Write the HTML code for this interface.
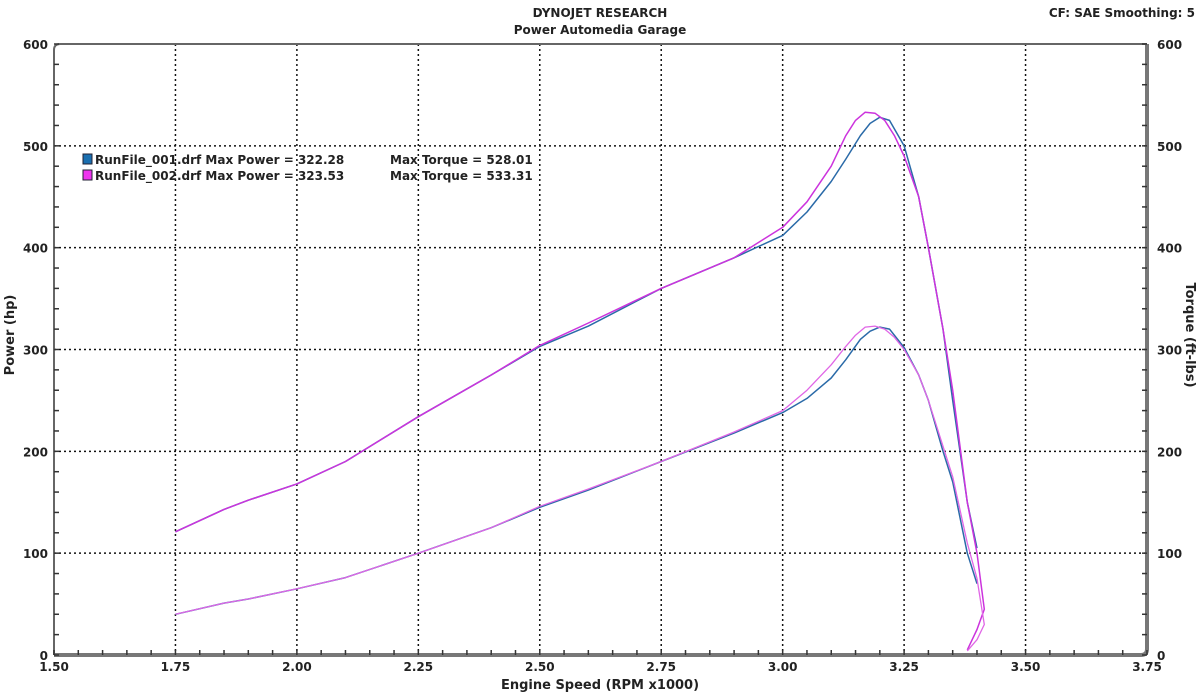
<!DOCTYPE html>
<html><head><meta charset="utf-8"><style>
body{margin:0;background:#fff;}
svg text{font-family:"DejaVu Sans","Liberation Sans",sans-serif;font-weight:bold;fill:#222;}
</style></head><body>
<svg id="chart" width="1200" height="692" xmlns="http://www.w3.org/2000/svg">
<text x="600" y="17" font-size="12" text-anchor="middle">DYNOJET RESEARCH</text>
<text x="600" y="34" font-size="12" text-anchor="middle">Power Automedia Garage</text>
<text x="1195" y="17" font-size="12" text-anchor="end">CF: SAE  Smoothing: 5</text>
<g id="grid"></g>
<g id="axes"></g>
<g id="series"></g>
<g>
<rect x="83" y="154" width="9" height="10" fill="#1a6fb0" stroke="#223" stroke-width="1"/>
<text x="95" y="164" font-size="12">RunFile_001.drf Max Power = 322.28</text>
<text x="390" y="164" font-size="12">Max Torque = 528.01</text>
<rect x="83" y="170" width="9" height="10" fill="#ee33ee" stroke="#223" stroke-width="1"/>
<text x="95" y="180" font-size="12">RunFile_002.drf Max Power = 323.53</text>
<text x="390" y="180" font-size="12">Max Torque = 533.31</text>
</g>
<text x="600" y="689" font-size="13" text-anchor="middle">Engine Speed (RPM x1000)</text>
<text x="0" y="0" font-size="13" text-anchor="middle" transform="translate(14,335) rotate(-90)">Power (hp)</text>
<text x="0" y="0" font-size="13" text-anchor="middle" transform="translate(1186,335) rotate(90)">Torque (ft-lbs)</text>
</svg>
<script>
const xTicks=[1.50,1.75,2.00,2.25,2.50,2.75,3.00,3.25,3.50,3.75];
const yTicks=[0,100,200,300,400,500,600];
const rpm1=[1.75,1.85,1.90,2.00,2.10,2.25,2.40,2.50,2.60,2.75,2.90,3.00,3.05,3.10,3.13,3.16,3.18,3.20,3.22,3.25,3.28,3.30,3.33,3.35,3.38,3.40];
const torque1=[121,143,152,168,190,234,275,303,323,360,390,412,435,465,487,510,522,528,525,500,450,400,320,250,150,105];
const power1=[40,51,55,65,76,100,125,145,162,190,218,238,252,272,290,310,318,322,320,302,275,250,200,170,100,70];
const rpm2=[1.75,1.85,1.90,2.00,2.10,2.25,2.40,2.50,2.60,2.75,2.90,3.00,3.05,3.10,3.13,3.15,3.17,3.19,3.21,3.23,3.25,3.28,3.30,3.33,3.35,3.38,3.40,3.415,3.40,3.38];
const torque2=[121,143,152,168,190,234,275,304,326,360,390,420,445,480,510,525,533,532,525,510,490,450,400,320,260,150,100,45,25,5];
const power2=[40,51,55,65,76,100,125,146,163,190,219,240,260,285,303,314,322,323,320,312,300,275,250,205,175,110,75,30,15,4];
const L=54,R=1147,T=44,B=655;
const xs=v=>L+(v-1.5)/2.25*(R-L);
const ys=v=>B-v/600*(B-T);
const NS='http://www.w3.org/2000/svg';
function mk(p,tag,a){const e=document.createElementNS(NS,tag);for(const k in a)e.setAttribute(k,a[k]);p.appendChild(e);return e;}
const grid=document.getElementById('grid'),axes=document.getElementById('axes'),ser=document.getElementById('series');
xTicks.slice(1,-1).forEach(v=>{const l=mk(grid,'line',{x1:xs(v),x2:xs(v),y1:T,y2:B,stroke:'#111','stroke-width':1.5,'stroke-dasharray':'2,3'});

});
yTicks.slice(1,-1).forEach(v=>{const l=mk(grid,'line',{x1:L,x2:R,y1:ys(v),y2:ys(v),stroke:'#111','stroke-width':1.5,'stroke-dasharray':'2,3'});

});
const f=mk(axes,'path',{d:`M${L},${B} L${L},${T+6} Q${L},${T} ${L+6},${T} L${R},${T}`,fill:'none',stroke:'#666','stroke-width':2});


const f2=mk(axes,'path',{d:`M${L},${B} L${R-6},${B} Q${R},${B} ${R},${B-6} L${R},${T}`,fill:'none',stroke:'#777','stroke-width':4});


for(let v=1.5;v<=3.751;v+=0.05){mk(axes,'line',{x1:xs(v),x2:xs(v),y1:B-5,y2:B,stroke:'#333','stroke-width':1.5});}
for(let v=0;v<=600;v+=20){mk(axes,'line',{x1:L,x2:L+5,y1:ys(v),y2:ys(v),stroke:'#333','stroke-width':1.5});mk(axes,'line',{x1:R-5,x2:R,y1:ys(v),y2:ys(v),stroke:'#333','stroke-width':1.5});}
xTicks.forEach(v=>{const t=mk(axes,'text',{x:xs(v),y:B+16,'font-size':12,'text-anchor':'middle'});t.textContent=v.toFixed(2);

});
yTicks.forEach(v=>{const t=mk(axes,'text',{x:L-6,y:ys(v)+5,'font-size':12,'text-anchor':'end'});t.textContent=v;


const t2=mk(axes,'text',{x:R+10,y:ys(v)+5,'font-size':12,'text-anchor':'start'});t2.textContent=v;

});
function line(xv,yv,color,w,name){const d=xv.map((x,i)=>(i?'L':'M')+xs(x).toFixed(1)+','+ys(yv[i]).toFixed(1)).join(' ');
const p=mk(ser,'path',{d:d,fill:'none',stroke:color,'stroke-width':w,'stroke-linejoin':'round'});

}
line(rpm1,torque1,'#2a6aa8',1.5,'torque-run1');
line(rpm1,power1,'#2a6aa8',1.5,'power-run1');
line(rpm2,torque2,'#cc33dd',1.5,'torque-run2');
line(rpm2,power2,'#e066e6',1.3,'power-run2');
</script>
</body></html>
